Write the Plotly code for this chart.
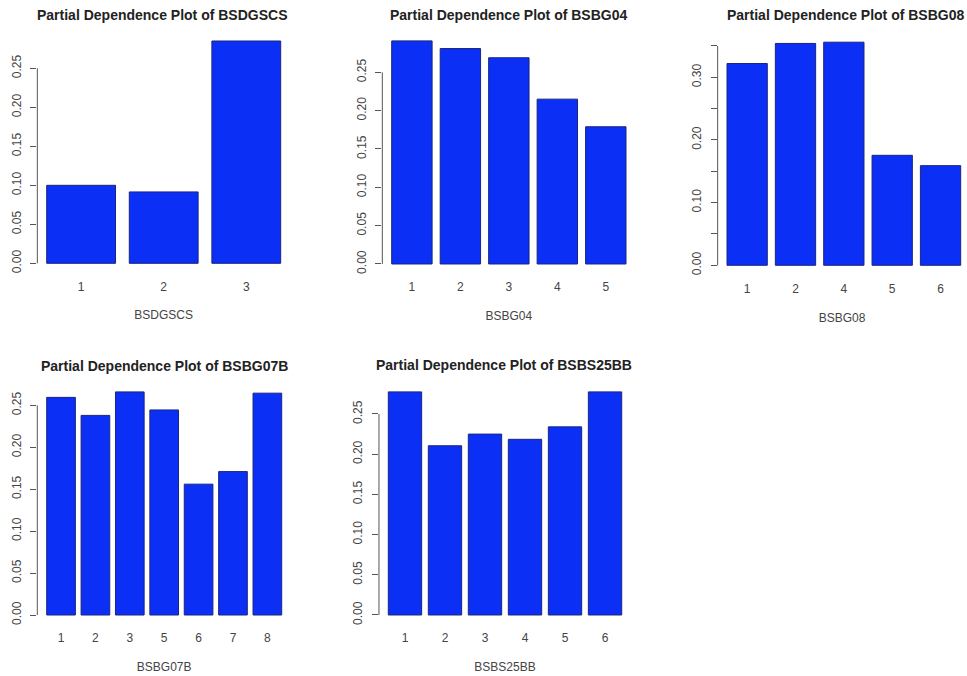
import plotly.graph_objects as go

W, H = 967, 676

# ---- data ----
bsdgscs_cats = ["1", "2", "3"]
bsdgscs_vals = [0.100, 0.0915, 0.285]

bsbg04_cats = ["1", "2", "3", "4", "5"]
bsbg04_vals = [0.291, 0.281, 0.269, 0.215, 0.179]

bsbg08_cats = ["1", "2", "4", "5", "6"]
bsbg08_vals = [0.322, 0.354, 0.356, 0.1755, 0.159]

bsbg07b_cats = ["1", "2", "3", "5", "6", "7", "8"]
bsbg07b_vals = [0.2595, 0.238, 0.266, 0.2445, 0.156, 0.171, 0.2645]

bsbs25bb_cats = ["1", "2", "3", "4", "5", "6"]
bsbs25bb_vals = [0.2775, 0.2105, 0.225, 0.2185, 0.234, 0.2775]

names = ["BSDGSCS", "BSBG04", "BSBG08", "BSBG07B", "BSBS25BB"]
cats = [bsdgscs_cats, bsbg04_cats, bsbg08_cats, bsbg07b_cats, bsbs25bb_cats]
vals = [bsdgscs_vals, bsbg04_vals, bsbg08_vals, bsbg07b_vals, bsbs25bb_vals]
tick_step = [0.05, 0.05, 0.05, 0.05, 0.05]
label_every = [1, 1, 2, 1, 1]

# ---- layout (pixel geometry of each panel) ----
# first-bar left px, last-bar right px, zero px, px per unit
geom = [
    (46.7, 280.7, 263.3, 780.0),
    (391.7, 626.0, 264.0, 766.7),
    (727.0, 960.7, 265.3, 626.7),
    (46.7, 281.7, 615.0, 838.7),
    (388.3, 621.7, 615.0, 804.0),
]
title_y = [15, 15, 15, 366, 365]
title_x = [162.5, 508.5, 845.0, 164.0, 504.0]

BAR_FILL = "#0B2FF5"
BAR_LINE = "#1A2580"
AX_COL = "#555555"
FONT = "Liberation Sans, Arial, sans-serif"

fig = go.Figure()
annotations = []
shapes = []

for i in range(5):
    n = len(cats[i])
    L, R, y0, k = geom[i]
    s = (R - L) / (n - 1 + 5 / 6)
    pad = 0.04 * (1.2 * n - 0.2) / 1.2
    xr = [-5 / 12 - pad, n - 1 + 5 / 12 + pad]
    dl = L - pad * s
    dr = R + pad * s
    if dr > W - 0.5:
        dr = W - 0.5
        xr[1] = xr[0] + (dr - dl) / s
    M = max(vals[i])
    yr = [-0.04 * M, 1.04 * M]
    db = y0 + 0.04 * M * k
    dt = y0 - 1.04 * M * k

    ax = "" if i == 0 else str(i + 1)
    fig.add_trace(go.Bar(
        x=cats[i], y=vals[i],
        xaxis="x" + ax, yaxis="y" + ax,
        marker=dict(color=BAR_FILL, line=dict(color=BAR_LINE, width=1)),
        width=5 / 6, showlegend=False, hoverinfo="x+y",
    ))

    step = tick_step[i]
    nt = int(M / step + 1e-9)
    tv = [round(j * step, 4) for j in range(nt + 1)]
    tt = [f"{v:.2f}" if (j % label_every[i] == 0) else "" for j, v in enumerate(tv)]

    fig.update_layout(**{
        "xaxis" + ax: dict(
            domain=[dl / W, dr / W], range=xr, type="category",
            anchor="y" + ax, showgrid=False, zeroline=False, showline=False,
            ticks="outside", ticklen=3, tickcolor="rgba(0,0,0,0)",
            tickfont=dict(size=12, color="#444444", family=FONT),
            title=dict(text=names[i], font=dict(size=12, color="#444444", family=FONT),
                       standoff=18),
            fixedrange=True,
        ),
        "yaxis" + ax: dict(
            domain=[1 - db / H, 1 - dt / H], range=yr,
            anchor="x" + ax, showgrid=False, zeroline=False, showline=False,
            tickmode="array", tickvals=tv, ticktext=tt,
            ticks="outside", ticklen=6, tickcolor=AX_COL, tickwidth=1,
            tickangle=-90, ticklabelstandoff=5,
            tickfont=dict(size=12, color="#444444", family=FONT),
            fixedrange=True,
        ),
    })
    shapes.append(dict(
        type="line", xref="x" + ax + " domain", yref="y" + ax,
        x0=0, x1=0, y0=0, y1=tv[-1],
        line=dict(color=AX_COL, width=1),
    ))
    annotations.append(dict(
        text="<b>Partial Dependence Plot of " + names[i] + "</b>",
        xref="paper", yref="paper",
        x=title_x[i] / W, y=1 - title_y[i] / H,
        xanchor="center", yanchor="middle", showarrow=False,
        font=dict(size=14, color="#222222", family=FONT),
    ))

fig.update_layout(
    width=W, height=H,
    margin=dict(l=0, r=0, t=0, b=0),
    paper_bgcolor="white", plot_bgcolor="white",
    bargap=1 / 6,
    annotations=annotations, shapes=shapes,
)

fig.write_html(
    "out.html",
    config={"displayModeBar": False},
    post_script="document.body.style.margin='0';document.body.style.overflow='hidden';",
)
